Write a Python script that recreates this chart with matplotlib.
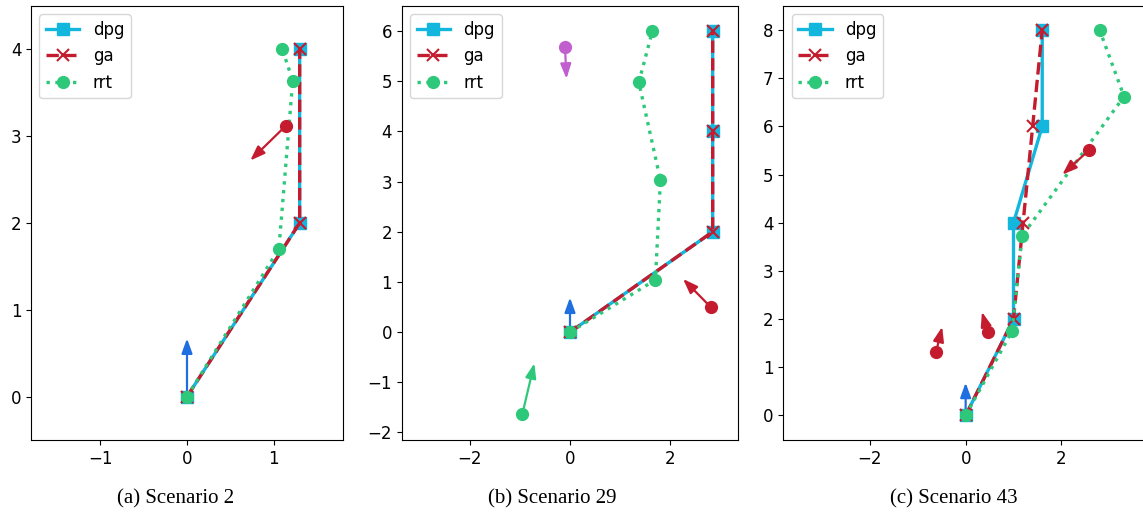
import matplotlib
matplotlib.use('Agg')
import matplotlib.pyplot as plt

# scenario 2
s2_dpg_x = [0, 1.3, 1.3]
s2_dpg_y = [0, 2, 4]
s2_ga_x = [0, 1.3, 1.3]
s2_ga_y = [0, 2, 4]
s2_rrt_x = [0, 1.06, 1.22, 1.10]
s2_rrt_y = [0, 1.70, 3.64, 4.0]
s2_ego = [0, 0, 0, 0.67]
s2_obs = [(1.14, 3.12, 0.73, 2.72, 'red')]

# scenario 29
s29_dpg_x = [0, 2.84, 2.84, 2.84]
s29_dpg_y = [0, 2, 4, 6]
s29_ga_x = [0, 2.84, 2.84, 2.84]
s29_ga_y = [0, 2, 4, 6]
s29_rrt_x = [0, 1.70, 1.80, 1.37, 1.64]
s29_rrt_y = [0, 1.04, 3.03, 4.98, 6.0]
s29_ego = [0, 0, 0, 0.69]
s29_obs = [(-0.10, 5.69, -0.07, 5.05, 'purple'),
           (-0.95, -1.64, -0.71, -0.62, 'green'),
           (2.80, 0.50, 2.25, 1.06, 'red')]

# scenario 43
s43_dpg_x = [0, 1.0, 1.0, 1.6, 1.6]
s43_dpg_y = [0, 2, 4, 6, 8]
s43_ga_x = [0, 1.0, 1.2, 1.4, 1.6]
s43_ga_y = [0, 2, 4, 6, 8]
s43_rrt_x = [0, 0.97, 1.18, 3.31, 2.80]
s43_rrt_y = [0, 1.75, 3.73, 6.62, 8.0]
s43_ego = [0, 0, 0, 0.68]
s43_obs = [(2.58, 5.51, 2.02, 5.0, 'red'),
           (-0.62, 1.31, -0.49, 1.84, 'red'),
           (0.46, 1.73, 0.34, 2.15, 'red')]

captions = ['(a) Scenario 2', '(b) Scenario 29', '(c) Scenario 43']

c_dpg = '#13b6dc'
c_ga = '#c41b2e'
c_rrt = '#2ec87a'
c_ego = '#1f6fe0'
obs_colors = {'red': '#c41b2e', 'purple': '#c25fcf', 'green': '#2ec87a'}

W, H = 1143, 513
fig = plt.figure(figsize=(W / 100, H / 100), dpi=100)

# axes boxes in pixels: left, right, top, bottom
boxes = [(31, 343, 6, 440), (401.7, 738.3, 6, 440), (783.3, 1148, 6, 440)]
xlims = [(-1.8, 1.8), (-3.35, 3.35), (-3.81, 3.81)]
ylims = [(-0.5, 4.5), (-2.15, 6.5), (-0.51, 8.5)]
xticks = [[-1, 0, 1], [-2, 0, 2], [-2, 0, 2]]
yticks = [range(0, 5), range(-2, 7), range(0, 9)]
cap_x = [176, 552, 954]

data = [
    (s2_dpg_x, s2_dpg_y, s2_ga_x, s2_ga_y, s2_rrt_x, s2_rrt_y, s2_ego, s2_obs),
    (s29_dpg_x, s29_dpg_y, s29_ga_x, s29_ga_y, s29_rrt_x, s29_rrt_y, s29_ego, s29_obs),
    (s43_dpg_x, s43_dpg_y, s43_ga_x, s43_ga_y, s43_rrt_x, s43_rrt_y, s43_ego, s43_obs),
]

arrow_style = '-|>,head_length=0.55,head_width=0.2'

for i in range(3):
    l, r, t, b = boxes[i]
    ax = fig.add_axes([l / W, (H - b) / H, (r - l) / W, (b - t) / H])
    dx, dy, gx, gy, rx, ry, ego, obs = data[i]

    ax.plot(dx, dy, '-', color=c_dpg, lw=2.4, marker='s', ms=8, label='dpg', zorder=3)
    ax.plot(gx, gy, '--', color=c_ga, lw=2.4, marker='x', ms=8, mew=1.5, label='ga', zorder=4)
    ax.plot(rx, ry, ':', color=c_rrt, lw=2.4, marker='o', ms=8.5, label='rrt', zorder=5)

    ax.annotate('', xy=(ego[2], ego[3]), xytext=(ego[0], ego[1]),
                arrowprops=dict(arrowstyle=arrow_style, color=c_ego, lw=1.6,
                                mutation_scale=16, shrinkA=0, shrinkB=0), zorder=2)
    for ox, oy, tx, ty, c in obs:
        col = obs_colors[c]
        ax.plot(ox, oy, 'o', color=col, ms=8.5, zorder=6)
        ax.annotate('', xy=(tx, ty), xytext=(ox, oy),
                    arrowprops=dict(arrowstyle=arrow_style, color=col, lw=1.6,
                                    mutation_scale=16, shrinkA=0, shrinkB=0), zorder=6)

    ax.set_xlim(xlims[i])
    ax.set_ylim(ylims[i])
    ax.set_xticks(xticks[i])
    ax.set_yticks(list(yticks[i]))
    ax.tick_params(labelsize=12)
    ax.legend(loc='upper left', fontsize=12)

    fig.text(cap_x[i] / W, 1 - 499 / H, captions[i], ha='center', va='center',
             family='Liberation Serif', fontsize=15)

fig.savefig('out.png', dpi=100)
